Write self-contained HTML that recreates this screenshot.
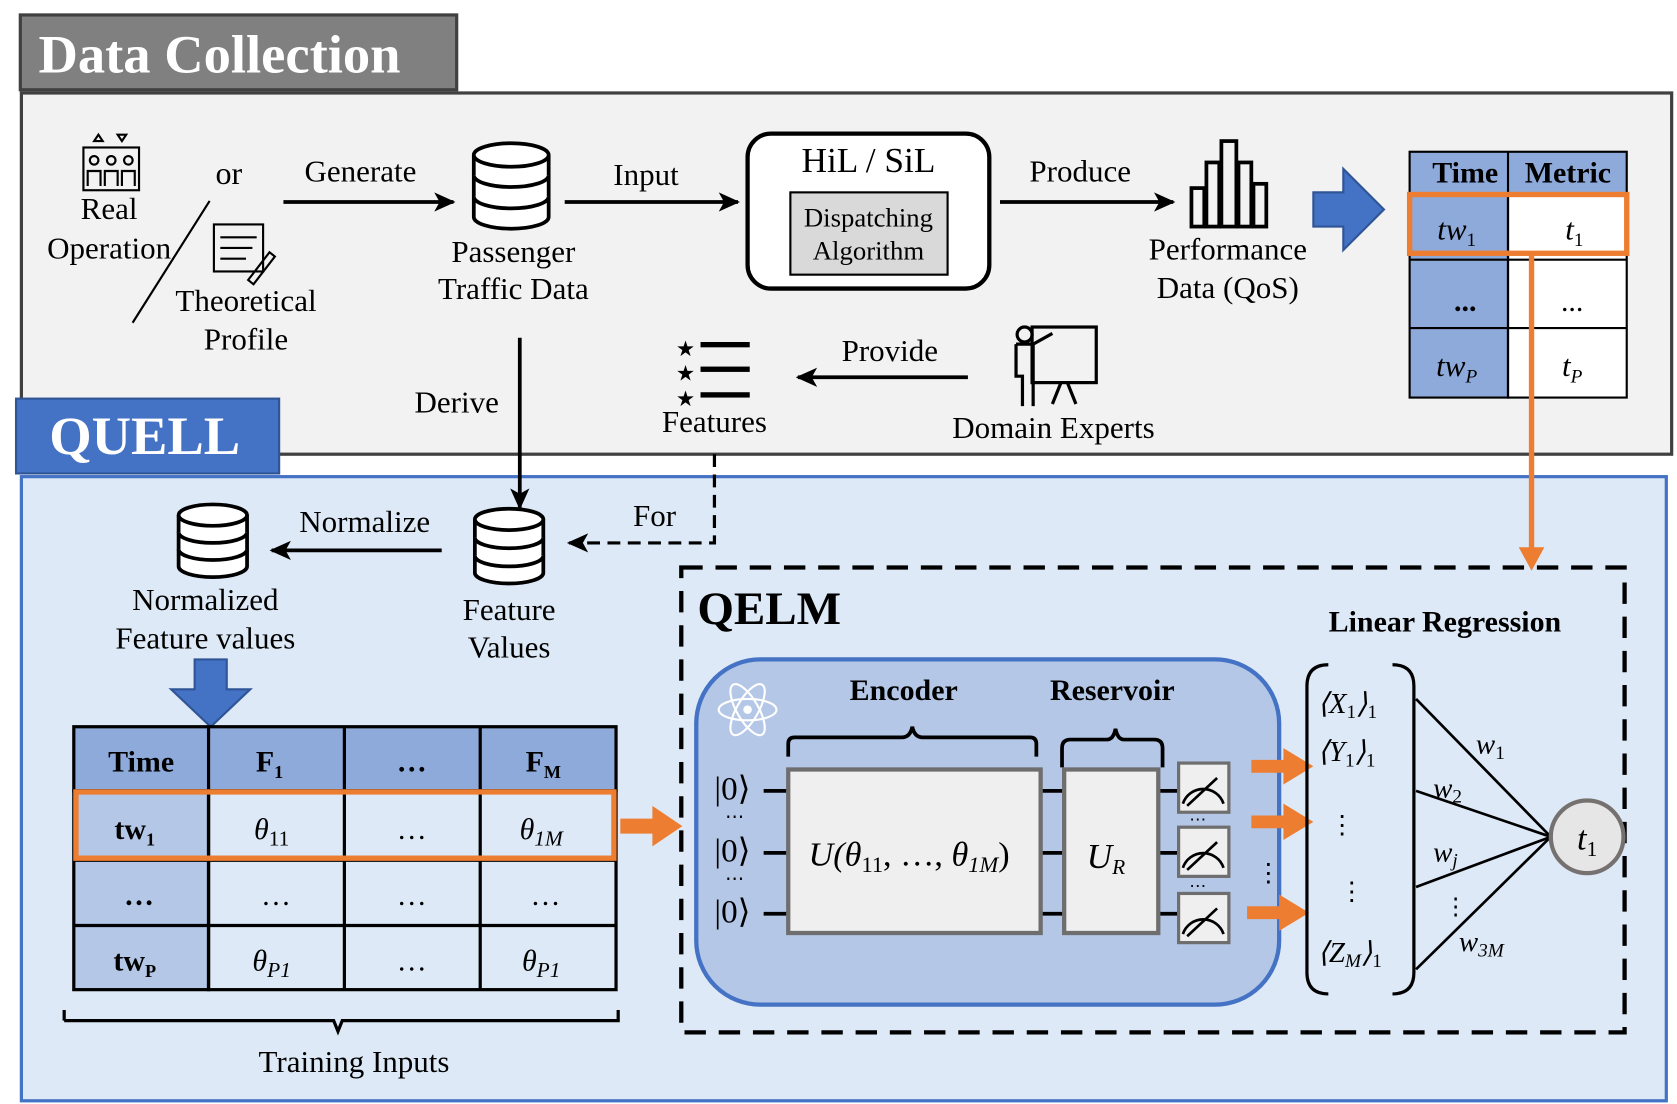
<!DOCTYPE html>
<html><head><meta charset="utf-8"><style>
html,body{margin:0;padding:0;background:#fff}
svg{display:block}
text{font-family:"Liberation Serif",serif;fill:#000}
.it{font-style:italic}
.b{font-weight:bold}
</style></head><body>
<svg width="1677" height="1104" viewBox="0 0 1568 1033" preserveAspectRatio="none">
<defs>
<marker id="ah" markerWidth="20" markerHeight="18" refX="18" refY="9" orient="auto" markerUnits="userSpaceOnUse" viewBox="0 0 20 18"><path d="M0,0 L20,9 L0,18 L5,9z" fill="#000"/></marker>
</defs>
<rect x="20" y="87" width="1543" height="338" fill="#f2f2f2" stroke="#404040" stroke-width="3"/>
<rect x="19" y="14" width="408" height="70" fill="#808080" stroke="#404040" stroke-width="3"/>
<text x="36" y="68" font-size="51" class="b" style="fill:#fff">Data Collection</text>
<rect x="20" y="446" width="1538" height="584" fill="#dde9f6" stroke="#4472c4" stroke-width="3"/>
<rect x="15" y="373" width="246" height="70" fill="#4472c4" stroke="#2f5597" stroke-width="2"/>
<text x="46" y="425" font-size="51" class="b" style="fill:#fff">QUELL</text>

<g stroke="#000" fill="none" stroke-width="2">
<rect x="78" y="138" width="52" height="40"/>
<circle cx="88" cy="150" r="4"/><circle cx="104" cy="150" r="4"/><circle cx="120" cy="150" r="4"/>
<path d="M82,174 v-14 h12 v14 M98,174 v-14 h12 v14 M114,174 v-14 h12 v14"/>
<path d="M88,132 l4,-6 l4,6z M110,126 l4,6 l4,-6z"/>
</g>
<text x="102" y="205" font-size="29" text-anchor="middle">Real</text>
<text x="102" y="242" font-size="29" text-anchor="middle">Operation</text>
<text x="214" y="172" font-size="30" text-anchor="middle">or</text>
<line x1="124" y1="302" x2="196" y2="188" stroke="#000" stroke-width="2"/>
<g stroke="#000" fill="none" stroke-width="2">
<rect x="200" y="210" width="46" height="44"/>
<path d="M206,222h34 M206,232h30 M206,242h24"/>
<path d="M232,262 l20,-26 l5,4 l-20,26z"/>
</g>
<text x="230" y="291" font-size="29" text-anchor="middle">Theoretical</text>
<text x="230" y="327" font-size="29" text-anchor="middle">Profile</text>

<line x1="265" y1="189" x2="424" y2="189" stroke="#000" stroke-width="3.5" marker-end="url(#ah)"/>
<text x="337" y="170" font-size="29" text-anchor="middle">Generate</text>

<g stroke="#000" stroke-width="3.5" fill="#fff">
<path d="M443,145 v58 a35,11 0 0 0 70,0 v-58"/>
<path d="M443,164 a35,11 0 0 0 70,0 M443,184 a35,11 0 0 0 70,0"/>
<ellipse cx="478" cy="145" rx="35" ry="11"/>
</g>
<text x="480" y="245" font-size="29" text-anchor="middle">Passenger</text>
<text x="480" y="280" font-size="29" text-anchor="middle">Traffic Data</text>

<line x1="528" y1="189" x2="690" y2="189" stroke="#000" stroke-width="3.5" marker-end="url(#ah)"/>
<text x="604" y="173" font-size="29" text-anchor="middle">Input</text>

<rect x="699" y="125" width="226" height="145" rx="22" fill="#fff" stroke="#000" stroke-width="4"/>
<text x="812" y="161" font-size="33" text-anchor="middle">HiL / SiL</text>
<rect x="739" y="180" width="147" height="77" fill="#d9d9d9" stroke="#000" stroke-width="2"/>
<text x="812" y="212" font-size="25" text-anchor="middle">Dispatching</text>
<text x="812" y="243" font-size="25" text-anchor="middle">Algorithm</text>

<line x1="935" y1="189" x2="1097" y2="189" stroke="#000" stroke-width="3.5" marker-end="url(#ah)"/>
<text x="1010" y="170" font-size="29" text-anchor="middle">Produce</text>

<g stroke="#000" stroke-width="3.5" fill="none">
<rect x="1114" y="176" width="12" height="36"/><rect x="1128" y="152" width="12" height="60"/><rect x="1142" y="132" width="14" height="80"/><rect x="1158" y="152" width="12" height="60"/><rect x="1172" y="172" width="12" height="40"/>
</g>
<text x="1148" y="243" font-size="29" text-anchor="middle">Performance</text>
<text x="1148" y="279" font-size="29" text-anchor="middle">Data (QoS)</text>

<path d="M1228,180 h28 v-22 l38,38 l-38,38 v-22 h-28z" fill="#4472c4" stroke="#2f5597" stroke-width="2"/>

<rect x="1318" y="142" width="203" height="40" fill="#8eaadb" stroke="#000" stroke-width="2"/>
<rect x="1318" y="182" width="92" height="190" fill="#8eaadb" stroke="#000" stroke-width="2"/>
<rect x="1410" y="182" width="111" height="190" fill="#fff" stroke="#000" stroke-width="2"/>
<line x1="1410" y1="142" x2="1410" y2="372" stroke="#000" stroke-width="2"/>
<line x1="1318" y1="243" x2="1521" y2="243" stroke="#000" stroke-width="2"/>
<line x1="1318" y1="307" x2="1521" y2="307" stroke="#000" stroke-width="2"/>
<text x="1370" y="171" font-size="28" class="b" text-anchor="middle">Time</text>
<text x="1466" y="171" font-size="28" class="b" text-anchor="middle">Metric</text>
<text x="1362" y="224" font-size="29" class="it" text-anchor="middle">tw<tspan font-size="18" dy="6" style="font-style:normal">1</tspan></text>
<text x="1472" y="224" font-size="29" class="it" text-anchor="middle">t<tspan font-size="18" dy="6" style="font-style:normal">1</tspan></text>
<text x="1370" y="291" font-size="28" class="b" text-anchor="middle">...</text>
<text x="1470" y="291" font-size="28" text-anchor="middle">...</text>
<text x="1362" y="352" font-size="29" class="it" text-anchor="middle">tw<tspan font-size="18" dy="6">P</tspan></text>
<text x="1470" y="352" font-size="29" class="it" text-anchor="middle">t<tspan font-size="18" dy="6">P</tspan></text>
<rect x="1318" y="182" width="203" height="55" fill="none" stroke="#ed7d31" stroke-width="5"/>
<line x1="1432" y1="237" x2="1432" y2="515" stroke="#ed7d31" stroke-width="5"/>
<path d="M1420,512 h24 l-12,22z" fill="#ed7d31"/>

<g fill="#000">
<text x="632" y="333" font-size="20">★</text><text x="632" y="356" font-size="20">★</text><text x="632" y="380" font-size="20">★</text>
<rect x="655" y="320" width="46" height="5"/><rect x="655" y="343" width="46" height="5"/><rect x="655" y="367" width="46" height="5"/>
</g>
<text x="668" y="404" font-size="29" text-anchor="middle">Features</text>
<line x1="905" y1="353" x2="746" y2="353" stroke="#000" stroke-width="3.5" marker-end="url(#ah)"/>
<text x="832" y="338" font-size="29" text-anchor="middle">Provide</text>
<g stroke="#000" stroke-width="3" fill="none">
<rect x="965" y="306" width="60" height="52"/>
<circle cx="958" cy="313" r="7"/>
<path d="M950,322 v30 h6 v28 M966,322 v58 M950,322 h16 l18,-10"/>
<path d="M992,358 l-8,20 M998,358 l8,20"/>
</g>
<text x="985" y="410" font-size="29" text-anchor="middle">Domain Experts</text>

<line x1="486" y1="316" x2="486" y2="475" stroke="#000" stroke-width="3.5" marker-end="url(#ah)"/>
<text x="427" y="386" font-size="29" text-anchor="middle">Derive</text>
<path d="M668,425 V508 H532" fill="none" stroke="#000" stroke-width="3" stroke-dasharray="12,7" marker-end="url(#ah)"/>
<text x="612" y="492" font-size="29" text-anchor="middle">For</text>

<g stroke="#000" stroke-width="3.5" fill="#fff">
<path d="M444,486 v50 a32,10 0 0 0 64,0 v-50"/>
<path d="M444,503 a32,10 0 0 0 64,0 M444,520 a32,10 0 0 0 64,0"/>
<ellipse cx="476" cy="486" rx="32" ry="10"/>
</g>
<text x="476" y="580" font-size="29" text-anchor="middle">Feature</text>
<text x="476" y="615" font-size="29" text-anchor="middle">Values</text>
<line x1="413" y1="515" x2="254" y2="515" stroke="#000" stroke-width="3.5" marker-end="url(#ah)"/>
<text x="341" y="498" font-size="29" text-anchor="middle">Normalize</text>
<g stroke="#000" stroke-width="3.5" fill="#fff">
<path d="M167,482 v48 a32,10 0 0 0 64,0 v-48"/>
<path d="M167,498 a32,10 0 0 0 64,0 M167,514 a32,10 0 0 0 64,0"/>
<ellipse cx="199" cy="482" rx="32" ry="10"/>
</g>
<text x="192" y="571" font-size="29" text-anchor="middle">Normalized</text>
<text x="192" y="607" font-size="29" text-anchor="middle">Feature values</text>
<path d="M182,617 h30 v28 h22 l-37,35 l-37,-35 h22z" fill="#4472c4" stroke="#2f5597" stroke-width="2"/>

<rect x="69" y="680" width="507" height="60" fill="#8eaadb" stroke="#000" stroke-width="3"/>
<rect x="69" y="740" width="126" height="186" fill="#b4c7e7" stroke="#000" stroke-width="3"/>
<rect x="195" y="740" width="381" height="186" fill="#dde9f6" stroke="#000" stroke-width="3"/>
<g stroke="#000" stroke-width="3">
<line x1="195" y1="680" x2="195" y2="926"/><line x1="322" y1="680" x2="322" y2="926"/><line x1="449" y1="680" x2="449" y2="926"/>
<line x1="69" y1="805" x2="576" y2="805"/><line x1="69" y1="866" x2="576" y2="866"/>
</g>
<text x="132" y="722" font-size="28" class="b" text-anchor="middle">Time</text>
<text x="252" y="722" font-size="28" class="b" text-anchor="middle">F<tspan font-size="17" dy="6">1</tspan></text>
<text x="385" y="722" font-size="28" class="b" text-anchor="middle">…</text>
<text x="508" y="722" font-size="28" class="b" text-anchor="middle">F<tspan font-size="17" dy="6">M</tspan></text>
<text x="126" y="785" font-size="28" class="b" text-anchor="middle">tw<tspan font-size="17" dy="6">1</tspan></text>
<text x="254" y="785" font-size="28" class="it" text-anchor="middle">θ<tspan font-size="20" dy="6" style="font-style:normal">11</tspan></text>
<text x="385" y="785" font-size="28" text-anchor="middle">…</text>
<text x="506" y="785" font-size="28" class="it" text-anchor="middle">θ<tspan font-size="20" dy="6">1M</tspan></text>
<text x="130" y="847" font-size="28" class="b" text-anchor="middle">…</text>
<text x="258" y="847" font-size="28" text-anchor="middle">…</text>
<text x="385" y="847" font-size="28" text-anchor="middle">…</text>
<text x="510" y="847" font-size="28" text-anchor="middle">…</text>
<text x="126" y="908" font-size="28" class="b" text-anchor="middle">tw<tspan font-size="17" dy="6">P</tspan></text>
<text x="254" y="908" font-size="28" class="it" text-anchor="middle">θ<tspan font-size="20" dy="6">P1</tspan></text>
<text x="385" y="908" font-size="28" text-anchor="middle">…</text>
<text x="506" y="908" font-size="28" class="it" text-anchor="middle">θ<tspan font-size="20" dy="6">P1</tspan></text>
<rect x="71" y="741" width="503" height="62" fill="none" stroke="#ed7d31" stroke-width="5"/>
<path d="M580,766 h30 v-12 l28,19 l-28,19 v-12 h-30z" fill="#ed7d31"/>
<path d="M60,955 v-10 M60,955 h252 l4,10 l4,-10 h258 v-10" fill="none" stroke="#000" stroke-width="3"/>
<text x="331" y="1003" font-size="29" text-anchor="middle">Training Inputs</text>

<rect x="637" y="531" width="882" height="435" fill="none" stroke="#000" stroke-width="4" stroke-dasharray="20,12"/>
<text x="652" y="584" font-size="44" class="b">QELM</text>
<text x="1351" y="591" font-size="28" class="b" text-anchor="middle">Linear Regression</text>
<rect x="651" y="617" width="545" height="323" rx="60" fill="#b4c7e7" stroke="#4472c4" stroke-width="4"/>
<g stroke="#fff" stroke-width="2" fill="none">
<ellipse cx="699" cy="664" rx="27" ry="10"/>
<ellipse cx="699" cy="664" rx="27" ry="10" transform="rotate(60 699 664)"/>
<ellipse cx="699" cy="664" rx="27" ry="10" transform="rotate(-60 699 664)"/>
<circle cx="699" cy="664" r="3" fill="#fff"/>
</g>
<text x="845" y="655" font-size="28" class="b" text-anchor="middle">Encoder</text>
<text x="1040" y="655" font-size="28" class="b" text-anchor="middle">Reservoir</text>
<path d="M737,708 v-12 q0,-6 6,-6 h100 q8,0 10,-10 q2,10 10,10 h100 q6,0 6,6 v12" fill="none" stroke="#000" stroke-width="3.5"/>
<path d="M993,718 v-18 q0,-8 8,-8 h34 q6,0 8,-10 q2,10 8,10 h28 q8,0 8,8 v18" fill="none" stroke="#000" stroke-width="3.5"/>
<g stroke="#000" stroke-width="3.5">
<line x1="714" y1="740" x2="1102" y2="740"/><line x1="714" y1="798" x2="1102" y2="798"/><line x1="714" y1="855" x2="1102" y2="855"/>
</g>
<text x="668" y="748" font-size="31">|0⟩</text>
<text x="668" y="806" font-size="31">|0⟩</text>
<text x="668" y="863" font-size="31">|0⟩</text>
<text x="678" y="770" font-size="18">⋯</text><text x="678" y="828" font-size="18">⋯</text>
<rect x="737" y="720" width="236" height="153" fill="#efefef" stroke="#6e6e6e" stroke-width="4"/>
<text x="850" y="810" font-size="32" text-anchor="middle" class="it">U(θ<tspan font-size="21" dy="6" style="font-style:normal">11</tspan><tspan dy="-6" style="font-style:normal">, …, </tspan>θ<tspan font-size="21" dy="6">1M</tspan><tspan dy="-6" style="font-style:normal">)</tspan></text>
<rect x="995" y="720" width="88" height="153" fill="#efefef" stroke="#6e6e6e" stroke-width="4"/>
<text x="1034" y="812" font-size="33" class="it" text-anchor="middle">U<tspan font-size="20" dy="6">R</tspan></text>
<g stroke="#6e6e6e" stroke-width="3" fill="#efefef">
<rect x="1102" y="714" width="47" height="46"/><rect x="1102" y="774" width="47" height="46"/><rect x="1102" y="836" width="47" height="46"/>
</g>
<g stroke="#000" stroke-width="2.5" fill="none">
<path d="M1106,752 a20,20 0 0 1 38,0 M1110,754 l28,-26"/>
<path d="M1106,812 a20,20 0 0 1 38,0 M1110,814 l28,-26"/>
<path d="M1106,874 a20,20 0 0 1 38,0 M1110,876 l28,-26"/>
</g>
<text x="1112" y="772" font-size="16">⋯</text><text x="1112" y="834" font-size="16">⋯</text>
<text x="1174" y="825" font-size="24">⋮</text>
<g fill="#ed7d31">
<path d="M1170,711 h30 v-11 l28,17 l-28,17 v-11 h-30z"/>
<path d="M1170,763 h30 v-11 l28,17 l-28,17 v-11 h-30z"/>
<path d="M1166,848 h30 v-11 l28,17 l-28,17 v-11 h-30z"/>
</g>
<path d="M1242,622 q-20,0 -20,20 v268 q0,20 20,20 M1302,622 q20,0 20,20 v268 q0,20 -20,20" fill="none" stroke="#000" stroke-width="3"/>
<text x="1232" y="667" font-size="27" class="it">⟨X<tspan font-size="18" dy="5" style="font-style:normal">1</tspan><tspan dy="-5">⟩</tspan><tspan font-size="18" dy="5" style="font-style:normal">1</tspan></text>
<text x="1232" y="712" font-size="27" class="it">⟨Y<tspan font-size="18" dy="5" style="font-style:normal">1</tspan><tspan dy="-5">⟩</tspan><tspan font-size="18" dy="5" style="font-style:normal">1</tspan></text>
<text x="1243" y="780" font-size="24">⋮</text>
<text x="1252" y="842" font-size="24">⋮</text>
<text x="1232" y="900" font-size="27" class="it">⟨Z<tspan font-size="18" dy="5">M</tspan><tspan dy="-5">⟩</tspan><tspan font-size="18" dy="5" style="font-style:normal">1</tspan></text>
<g stroke="#000" stroke-width="2.5">
<line x1="1324" y1="654" x2="1450" y2="783"/>
<line x1="1324" y1="740" x2="1450" y2="783"/>
<line x1="1324" y1="830" x2="1450" y2="783"/>
<line x1="1324" y1="907" x2="1450" y2="783"/>
</g>
<text x="1380" y="705" font-size="27" class="it">w<tspan font-size="18" dy="5" style="font-style:normal">1</tspan></text>
<text x="1340" y="746" font-size="27" class="it">w<tspan font-size="18" dy="5" style="font-style:normal">2</tspan></text>
<text x="1340" y="806" font-size="27" class="it">w<tspan font-size="18" dy="5">j</tspan></text>
<text x="1350" y="855" font-size="22">⋮</text>
<text x="1364" y="890" font-size="27" class="it">w<tspan font-size="18" dy="5">3M</tspan></text>
<circle cx="1484" cy="783" r="34" fill="#e7e6e6" stroke="#767171" stroke-width="4"/>
<text x="1484" y="795" font-size="32" class="it" text-anchor="middle">t<tspan font-size="20" dy="6" style="font-style:normal">1</tspan></text>
</svg>
</body></html>
